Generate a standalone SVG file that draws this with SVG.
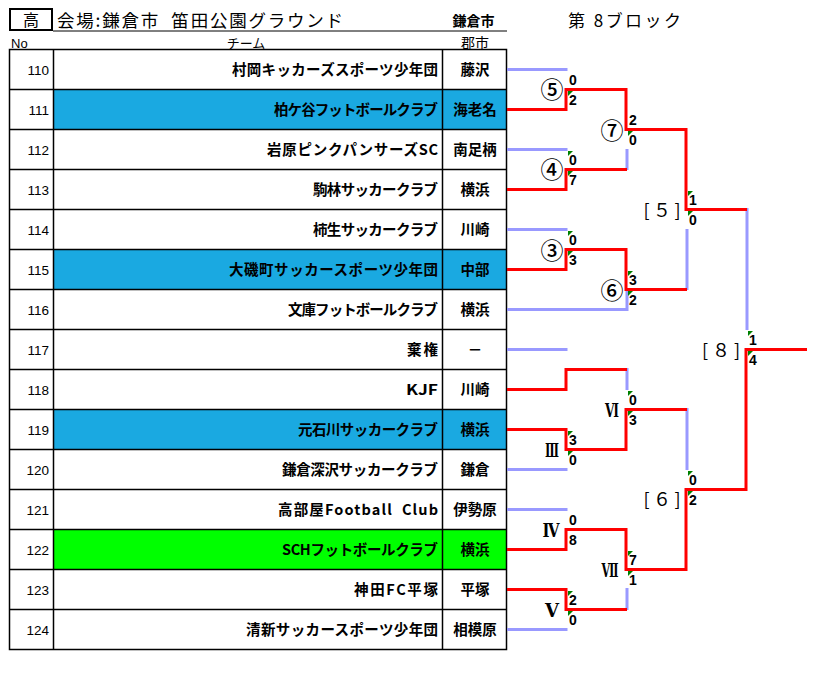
<svg xmlns="http://www.w3.org/2000/svg" width="819" height="686" viewBox="0 0 819 686">
<style>
text{font-family:"Noto Sans CJK JP","Liberation Sans",sans-serif;fill:#000;white-space:pre}
.no{font-family:"Liberation Sans","Noto Sans CJK JP",sans-serif;font-size:13.5px;text-anchor:end}
.tm{font-size:14.5px;font-weight:bold;text-anchor:end}
.ct{font-size:14.5px;font-weight:bold;text-anchor:middle}
.sc{font-family:"Liberation Sans",sans-serif;font-size:14px;font-weight:bold}
.cn{font-family:"Noto Sans CJK JP",sans-serif;font-size:23px;font-weight:500;text-anchor:middle}
.rn{font-family:"DejaVu Serif","Noto Sans CJK JP",serif;font-size:18px;font-weight:bold;text-anchor:middle}
.br{font-size:18px;text-anchor:middle}
.grid{stroke:#000;stroke-width:1.5;fill:none}
.w{fill:none;stroke:#FF0000;stroke-width:3;stroke-linejoin:miter}
.l{fill:none;stroke:#9999FF;stroke-width:3}
.g{fill:#008000}
</style>
<rect width="819" height="686" fill="#fff"/>

<g id="header">
<rect x="10" y="9" width="42" height="21" fill="none" stroke="#000" stroke-width="2"/>
<text x="31" y="26" style="font-size:16px;text-anchor:middle">高</text>
<text x="57" y="27" style="font-size:17.5px" textLength="286" xml:space="preserve">会場:鎌倉市  笛田公園グラウンド</text>
<text x="473.5" y="26" style="font-size:14px;font-weight:bold;text-anchor:middle">鎌倉市</text>
<line x1="53" y1="31" x2="507" y2="31" stroke="#000" stroke-width="1"/>
<text x="568" y="27" style="font-size:17px" textLength="113" xml:space="preserve">第 8ブロック</text>
<text x="11" y="48" style="font-size:13px;font-family:'Liberation Sans',sans-serif">No</text>
<text x="246" y="48" style="font-size:13px;text-anchor:middle">チーム</text>
<text x="475" y="48" style="font-size:14px;text-anchor:middle">郡市</text>
</g>

<g id="fills">
<rect x="53.5" y="89.5" width="453" height="40" fill="#1AA9E1"/>
<rect x="53.5" y="249.5" width="453" height="40" fill="#1AA9E1"/>
<rect x="53.5" y="409.5" width="453" height="40" fill="#1AA9E1"/>
<rect x="53.5" y="529.5" width="453" height="40" fill="#00FF00"/>
</g>

<g id="table-grid" class="grid">
<rect x="9.5" y="49.5" width="497" height="600"/>
<path d="M53.5 49.5V649.5M442.5 49.5V649.5M9.5 89.5H506.5M9.5 129.5H506.5M9.5 169.5H506.5M9.5 209.5H506.5M9.5 249.5H506.5M9.5 289.5H506.5M9.5 329.5H506.5M9.5 369.5H506.5M9.5 409.5H506.5M9.5 449.5H506.5M9.5 489.5H506.5M9.5 529.5H506.5M9.5 569.5H506.5M9.5 609.5H506.5"/>
</g>

<g id="row110"><text class="no" x="49" y="75">110</text><text class="tm" x="438" y="75" textLength="206">村岡キッカーズスポーツ少年団</text><text class="ct" x="475" y="75">藤沢</text></g>
<g id="row111"><text class="no" x="49" y="115">111</text><text class="tm" x="438" y="115" textLength="164">柏ケ谷フットボールクラブ</text><text class="ct" x="475" y="115">海老名</text></g>
<g id="row112"><text class="no" x="49" y="155">112</text><text class="tm" x="438" y="155" textLength="171">岩原ピンクパンサーズSC</text><text class="ct" x="475" y="155">南足柄</text></g>
<g id="row113"><text class="no" x="49" y="195">113</text><text class="tm" x="438" y="195" textLength="125">駒林サッカークラブ</text><text class="ct" x="475" y="195">横浜</text></g>
<g id="row114"><text class="no" x="49" y="235">114</text><text class="tm" x="438" y="235" textLength="125">柿生サッカークラブ</text><text class="ct" x="475" y="235">川崎</text></g>
<g id="row115"><text class="no" x="49" y="275">115</text><text class="tm" x="438" y="275" textLength="209">大磯町サッカースポーツ少年団</text><text class="ct" x="475" y="275">中部</text></g>
<g id="row116"><text class="no" x="49" y="315">116</text><text class="tm" x="438" y="315" textLength="150">文庫フットボールクラブ</text><text class="ct" x="475" y="315">横浜</text></g>
<g id="row117"><text class="no" x="49" y="355">117</text><text class="tm" x="438" y="355" textLength="31">棄権</text><text class="ct" x="475" y="355">－</text></g>
<g id="row118"><text class="no" x="49" y="395">118</text><text class="tm" x="438" y="395" textLength="32" lengthAdjust="spacingAndGlyphs">KJF</text><text class="ct" x="475" y="395">川崎</text></g>
<g id="row119"><text class="no" x="49" y="435">119</text><text class="tm" x="438" y="435" textLength="140">元石川サッカークラブ</text><text class="ct" x="475" y="435">横浜</text></g>
<g id="row120"><text class="no" x="49" y="475">120</text><text class="tm" x="438" y="475" textLength="156">鎌倉深沢サッカークラブ</text><text class="ct" x="475" y="475">鎌倉</text></g>
<g id="row121"><text class="no" x="49" y="515">121</text><text class="tm" x="438" y="515" textLength="160" xml:space="preserve">高部屋Football  Club</text><text class="ct" x="475" y="515">伊勢原</text></g>
<g id="row122"><text class="no" x="49" y="555">122</text><text class="tm" x="438" y="555" textLength="156">SCHフットボールクラブ</text><text class="ct" x="475" y="555">横浜</text></g>
<g id="row123"><text class="no" x="49" y="595">123</text><text class="tm" x="438" y="595" textLength="84">神田FC平塚</text><text class="ct" x="475" y="595">平塚</text></g>
<g id="row124"><text class="no" x="49" y="635">124</text><text class="tm" x="438" y="635" textLength="192">清新サッカースポーツ少年団</text><text class="ct" x="475" y="635">相模原</text></g>

<g id="connectors">
<path class="l" d="M507 69.5H567.5M507 149.5H567.5M627 149V170M507 229.5H567.5M687 229V290M507 309.5H627V288M747 208V330M507 349.5H567.5M627 368V390M687 408V470M507 469.5H567.5M507 509.5H567.5M627 588V610M507 629.5H567.5"/>
<path class="w" d="M507 109.5H566V89.5H626V129.5H686V209.5H747"/>
<path class="w" d="M507 189.5H566V169.5H627"/>
<path class="w" d="M507 269.5H566V249.5H626V289.5H687"/>
<path class="w" d="M507 389.5H566V369.5H627"/>
<path class="w" d="M507 429.5H566V449.5H626V409.5H687"/>
<path class="w" d="M507 549.5H566V529.5H626V569.5H686V489.5H746V349.5H807"/>
<path class="w" d="M507 589.5H566V609.5H627"/>
</g>

<g id="flags" class="g">
<path d="M568 91h5l-5 5z"/>
<path d="M568 151h5l-5 5z"/><path d="M568 171h5l-5 5z"/>
<path d="M628 131h5l-5 5z"/>
<path d="M688 191h5l-5 5z"/><path d="M688 211h5l-5 5z"/>
<path d="M568 231h5l-5 5z"/><path d="M568 251h5l-5 5z"/>
<path d="M628 271h5l-5 5z"/><path d="M628 291h5l-5 5z"/>
<path d="M748 331h5l-5 5z"/><path d="M748 351h5l-5 5z"/>
<path d="M628 391h5l-5 5z"/><path d="M628 411h5l-5 5z"/>
<path d="M568 431h5l-5 5z"/><path d="M568 451h5l-5 5z"/>
<path d="M688 471h5l-5 5z"/><path d="M688 491h5l-5 5z"/>
<path d="M628 551h5l-5 5z"/><path d="M628 571h5l-5 5z"/>
<path d="M568 591h5l-5 5z"/><path d="M568 611h5l-5 5z"/>
</g>

<g id="scores">
<text class="sc" x="569" y="85">0</text><text class="sc" x="569" y="105">2</text>
<text class="sc" x="569" y="165">0</text><text class="sc" x="569" y="185">7</text>
<text class="sc" x="629" y="125">2</text><text class="sc" x="629" y="145">0</text>
<text class="sc" x="689" y="205">1</text><text class="sc" x="689" y="225">0</text>
<text class="sc" x="569" y="245">0</text><text class="sc" x="569" y="265">3</text>
<text class="sc" x="629" y="285">3</text><text class="sc" x="629" y="305">2</text>
<text class="sc" x="749" y="345">1</text><text class="sc" x="749" y="365">4</text>
<text class="sc" x="629" y="405">0</text><text class="sc" x="629" y="425">3</text>
<text class="sc" x="569" y="445">3</text><text class="sc" x="569" y="465">0</text>
<text class="sc" x="689" y="485">0</text><text class="sc" x="689" y="505">2</text>
<text class="sc" x="569" y="525">0</text><text class="sc" x="569" y="545">8</text>
<text class="sc" x="629" y="565">7</text><text class="sc" x="629" y="585">1</text>
<text class="sc" x="569" y="605">2</text><text class="sc" x="569" y="625">0</text>
</g>

<g id="match-labels">
<text class="cn" x="552" y="98">⑤</text>
<text class="cn" x="612" y="139">⑦</text>
<text class="cn" x="552" y="178">④</text>
<text class="br" x="662" y="216.5" textLength="37">[５]</text>
<text class="cn" x="552" y="259">③</text>
<text class="cn" x="612" y="299">⑥</text>
<text class="br" x="721" y="356.5" textLength="38">[８]</text>
<text class="rn" x="612" y="417" textLength="14" lengthAdjust="spacingAndGlyphs">Ⅵ</text>
<text class="rn" x="552" y="457" textLength="14" lengthAdjust="spacingAndGlyphs">Ⅲ</text>
<text class="br" x="662" y="505.5" textLength="37">[６]</text>
<text class="rn" x="551" y="537" textLength="17" lengthAdjust="spacingAndGlyphs">Ⅳ</text>
<text class="rn" x="610" y="577" textLength="17" lengthAdjust="spacingAndGlyphs">Ⅶ</text>
<text class="rn" x="552" y="617" textLength="14" lengthAdjust="spacingAndGlyphs">Ⅴ</text>
</g>
</svg>
